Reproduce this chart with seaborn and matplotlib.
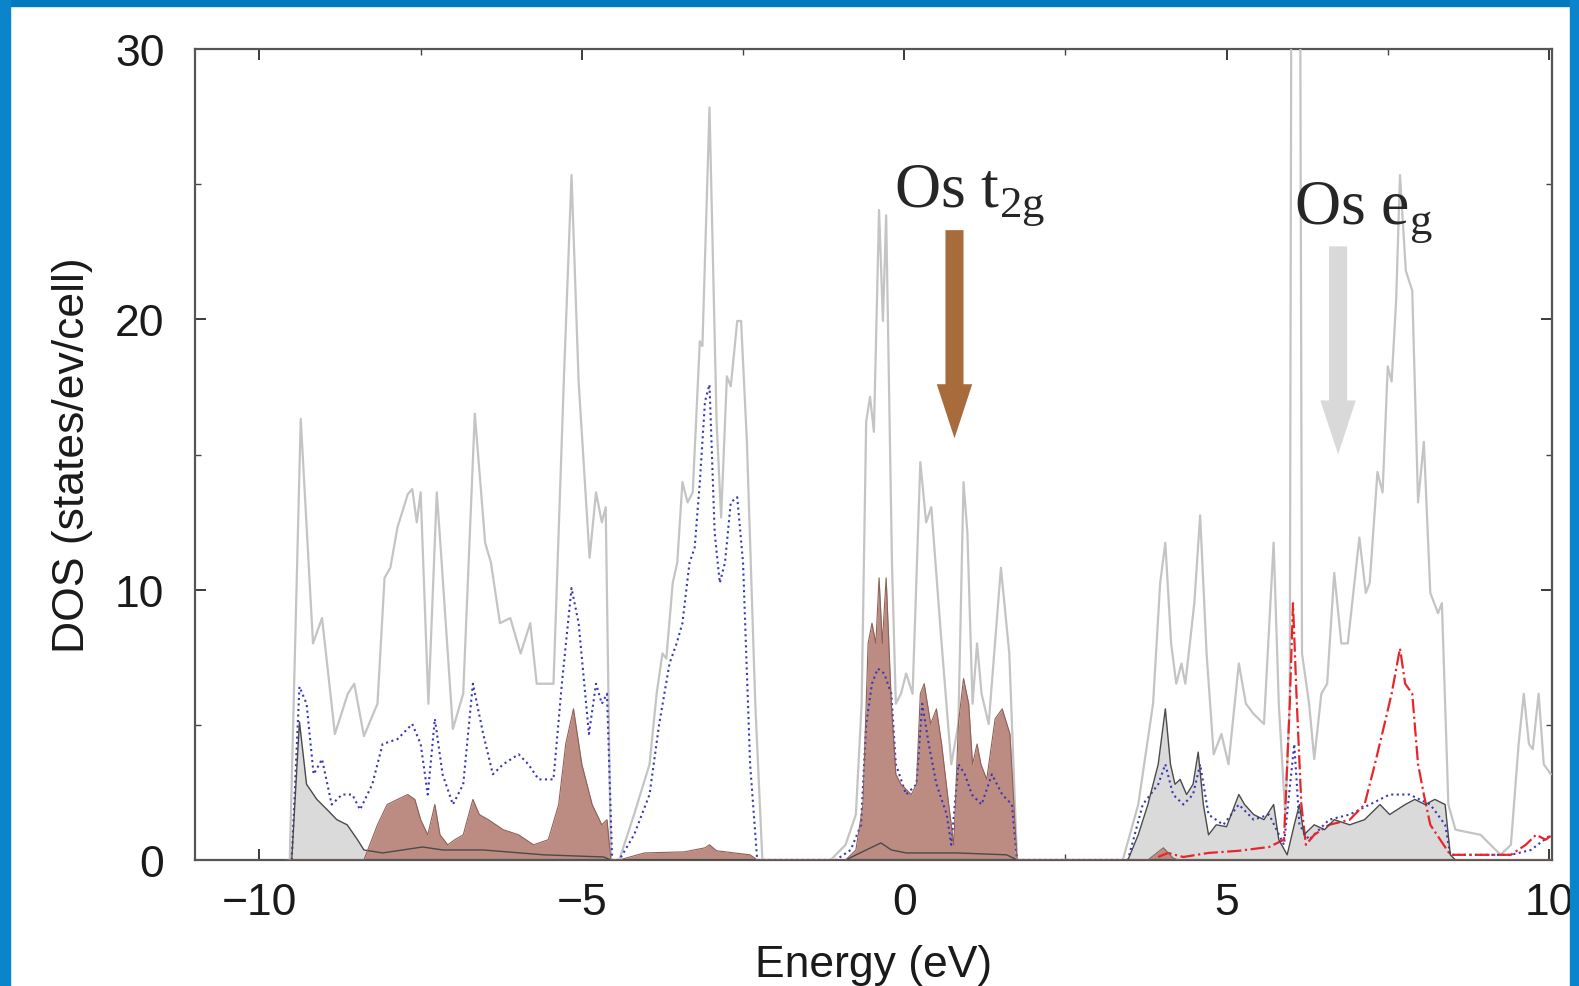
import seaborn as sns
import matplotlib.pyplot as plt
import matplotlib.patches as mpatches
from matplotlib.ticker import MultipleLocator

# total DOS (light gray solid line)
total_e = [-9.53, -9.36, -9.17, -9.03, -8.83, -8.63, -8.53, -8.38, -8.17, -8.06, -7.97, -7.86,
           -7.70, -7.63, -7.56, -7.50, -7.38, -7.25, -7.19, -7.00, -6.84, -6.66, -6.50, -6.41,
           -6.27, -6.11, -5.95, -5.80, -5.70, -5.44, -5.28, -5.16, -5.05, -4.88, -4.78, -4.69,
           -4.63, -4.55,
           -4.42, -4.19, -3.95, -3.84, -3.75, -3.69, -3.59, -3.52, -3.44, -3.36, -3.28, -3.17,
           -3.13, -3.02, -2.91, -2.84, -2.75, -2.69, -2.59, -2.53, -2.44, -2.31, -2.20,
           -1.14, -0.91, -0.75, -0.66, -0.59, -0.53, -0.47, -0.39, -0.33, -0.28, -0.19, -0.13,
           -0.05, 0.03, 0.13, 0.25, 0.34, 0.42, 0.58, 0.73, 0.84, 0.92, 0.98, 1.06, 1.13, 1.20,
           1.31, 1.50, 1.63, 1.75,
           3.39, 3.63, 3.86, 3.97, 4.05, 4.14, 4.22, 4.30, 4.36, 4.50, 4.59, 4.69, 4.80, 4.92,
           5.03, 5.19, 5.30, 5.42, 5.58, 5.73, 5.81, 5.91, 5.98, 6.03, 6.11, 6.17, 6.28, 6.36,
           6.47, 6.56, 6.67, 6.78, 6.88, 7.06, 7.16, 7.22, 7.34, 7.42, 7.50, 7.56, 7.63, 7.69,
           7.78, 7.88, 7.97, 8.06, 8.16, 8.28, 8.34, 8.44, 8.55, 8.94, 9.25, 9.41, 9.53, 9.61,
           9.69, 9.75, 9.84, 9.92, 10.03]
total_dos = [0, 16.32, 8.01, 8.95, 4.66, 6.15, 6.52, 4.58, 5.78, 10.44, 10.81, 12.30,
             13.53, 13.72, 12.49, 13.60, 5.78, 13.60, 11.55, 4.85, 6.15, 16.51, 11.74, 11.00,
             8.76, 8.95, 7.64, 8.76, 6.52, 6.52, 17.70, 25.34, 17.70, 11.18, 13.60, 12.49,
             13.05, 0,
             0, 1.68, 3.54, 6.15, 7.64, 7.45, 10.25, 11.00, 13.98, 13.23, 13.60, 19.19,
             19.01, 27.84, 16.21, 12.67, 17.89, 17.52, 19.94, 19.94, 15.47, 5.78, 0,
             0, 0.56, 1.68, 5.78, 16.21, 17.14, 15.84, 24.04, 19.94, 23.85, 11.00, 5.78,
             6.15, 6.90, 6.15, 14.72, 12.49, 13.05, 8.01, 3.54, 5.03, 13.98, 12.11, 5.78, 8.01, 6.15,
             5.03, 10.81, 7.64, 0,
             0, 2.05, 5.78, 10.25, 11.74, 8.01, 6.52, 7.27, 6.52, 9.50, 12.75, 7.64, 3.91, 4.66,
             3.54, 7.27, 5.78, 5.40, 5.03, 11.74, 5.78, 1.68, 5.78, 60.0, 60.0, 7.64, 5.78, 3.73,
             6.15, 6.52, 10.62, 8.01, 8.01, 11.93, 9.88, 10.25, 14.35, 13.60, 18.26, 17.70, 20.69, 25.34,
             21.80, 21.06, 13.23, 15.47, 9.88, 9.13, 9.50, 2.05, 1.12, 0.93, 0.19, 0.56, 4.29, 6.15,
             4.29, 4.10, 6.15, 3.54, 3.17]

# blue dotted partial DOS
blue_e = [-9.50, -9.38, -9.27, -9.16, -9.03, -8.88, -8.72, -8.56, -8.44, -8.25, -8.09, -7.86,
          -7.63, -7.50, -7.39, -7.28, -7.16, -7.00, -6.84, -6.69, -6.53, -6.38, -6.22, -5.98,
          -5.83, -5.67, -5.44, -5.31, -5.16, -5.05, -4.89, -4.78, -4.69, -4.61, -4.53,
          -4.42, -4.19, -3.95, -3.80, -3.64, -3.53, -3.44, -3.33, -3.25, -3.17, -3.09, -3.02,
          -2.94, -2.86, -2.78, -2.69, -2.59, -2.50, -2.39, -2.28,
          -1.06, -0.83, -0.67, -0.59, -0.50, -0.41, -0.31, -0.20, -0.13, 0.03, 0.19, 0.28,
          0.38, 0.50, 0.66, 0.73, 0.84, 0.94, 1.05, 1.20, 1.36, 1.52, 1.67, 1.75,
          3.47, 3.70, 3.94, 4.05, 4.17, 4.33, 4.48, 4.59, 4.72, 4.95, 5.19, 5.42, 5.66, 5.89,
          6.05, 6.13, 6.28, 6.59, 6.91, 7.22, 7.53, 7.84, 8.16, 8.39, 8.47, 9.41, 9.72, 10.03]
blue_dos = [0, 6.41, 5.78, 3.17, 3.73, 2.05, 2.42, 2.42, 1.86, 2.80, 4.29, 4.47,
            5.03, 4.29, 2.42, 5.22, 3.17, 2.05, 2.80, 6.52, 4.66, 3.17, 3.54, 3.91,
            3.54, 2.98, 2.98, 6.52, 10.06, 8.76, 4.66, 6.52, 5.78, 6.15, 0,
            0, 0.93, 2.42, 5.03, 7.27, 8.01, 8.76, 11.00, 11.55, 13.98, 16.96, 17.59,
            12.11, 10.25, 11.00, 13.23, 13.42, 11.00, 3.54, 0,
            0, 0.37, 1.30, 5.03, 6.52, 7.08, 6.90, 6.15, 3.54, 2.42, 2.80, 5.78,
            4.29, 2.80, 1.68, 0.56, 3.54, 3.17, 2.42, 2.05, 3.17, 2.42, 2.05, 0,
            0, 2.05, 2.80, 3.54, 2.42, 2.05, 2.42, 3.54, 1.68, 1.30, 2.05, 1.49, 1.68, 0.56,
            4.29, 1.30, 0.75, 1.49, 1.68, 2.05, 2.42, 2.42, 2.05, 1.30, 0.19, 0.19, 0.37, 0.93]

# Os t2g (brown filled)
t2g_e = [-9.6, -8.38, -8.17, -8.02, -7.86, -7.70, -7.59, -7.50, -7.39, -7.28, -7.20, -7.08,
         -6.97, -6.84, -6.69, -6.59, -6.45, -6.22, -5.98, -5.75, -5.52, -5.36, -5.25, -5.13,
         -5.00, -4.84, -4.69, -4.61, -4.55,
         -4.42, -4.03, -3.41, -3.09, -3.02, -2.91, -2.39, -2.28,
         -0.91, -0.75, -0.64, -0.56, -0.50, -0.44, -0.39, -0.34, -0.28, -0.20, -0.13, -0.05,
         0.11, 0.19, 0.25, 0.31, 0.41, 0.50, 0.58, 0.69, 0.77, 0.84, 0.92, 1.00, 1.06, 1.13,
         1.19, 1.28, 1.41, 1.52, 1.64, 1.75,
         3.78, 4.02, 4.17, 4.25, 10.1]
t2g_dos = [0, 0, 1.30, 2.05, 2.24, 2.42, 2.24, 1.49, 0.93, 2.05, 0.93, 0.56,
           0.75, 0.93, 2.24, 1.68, 1.49, 1.12, 0.93, 0.56, 0.75, 2.05, 4.29, 5.59,
           3.54, 2.05, 1.30, 1.49, 0,
           0, 0.26, 0.30, 0.45, 0.56, 0.34, 0.19, 0,
           0, 0.37, 2.05, 8.01, 8.76, 8.01, 10.44, 8.01, 10.44, 5.78, 3.17, 2.80,
           2.42, 2.80, 6.15, 6.52, 5.03, 5.59, 4.29, 2.05, 0.56, 5.03, 6.71, 5.78, 3.54, 4.29,
           3.54, 2.98, 5.22, 5.59, 4.66, 0,
           0, 0.45, 0.07, 0, 0]

# Os eg (light gray filled)
eg_e = [-9.50, -9.38, -9.27, -9.11, -8.95, -8.80, -8.64, -8.48, -8.38, -8.09, -7.47, -7.16,
        -6.53, -5.59, -4.66, -4.55,
        -0.91, -0.59, -0.36, -0.20, 0.03, 0.81, 1.59, 1.75,
        3.47, 3.63, 3.78, 3.94, 4.05, 4.13, 4.20, 4.28, 4.38, 4.48, 4.56, 4.64, 4.72, 4.84,
        5.00, 5.19, 5.28, 5.42, 5.58, 5.73, 5.81, 5.94, 6.05, 6.13, 6.20, 6.36, 6.52, 6.67,
        6.91, 7.14, 7.38, 7.53, 7.77, 7.92, 8.08, 8.23, 8.39, 8.47, 8.55]
eg_dos = [0, 5.11, 2.80, 2.24, 1.86, 1.49, 1.30, 0.75, 0.37, 0.26, 0.48, 0.37,
          0.37, 0.19, 0.11, 0,
          0, 0.37, 0.63, 0.37, 0.26, 0.26, 0.19, 0,
          0, 0.93, 2.05, 3.54, 5.59, 3.54, 2.80, 2.98, 2.42, 2.80, 3.99, 2.05, 0.93, 1.30,
          1.23, 2.42, 2.05, 1.68, 1.49, 2.05, 0.75, 0.19, 1.30, 2.05, 0.93, 1.30, 1.12, 1.49,
          1.30, 1.49, 2.05, 1.68, 2.05, 2.24, 2.05, 2.24, 2.05, 0.19, 0]

# red dash-dot partial DOS
red_e = [3.94, 4.09, 4.33, 4.72, 5.19, 5.66, 5.89, 5.98, 6.03, 6.09, 6.16, 6.23, 6.36,
         6.59, 6.91, 7.14, 7.30, 7.45, 7.56, 7.69, 7.77, 7.88, 7.97, 8.06, 8.16, 8.47,
         9.41, 9.64, 9.80, 9.95, 10.05]
red_dos = [0.11, 0.26, 0.11, 0.26, 0.34, 0.48, 0.75, 5.78, 9.50, 5.78, 2.05, 0.56, 0.93,
           1.30, 1.49, 2.05, 3.54, 5.03, 6.15, 7.83, 6.52, 6.15, 3.54, 2.42, 1.30, 0.19,
           0.19, 0.56, 0.93, 0.75, 0.93]

x_ticks = [-10, -5, 0, 5, 10]
y_ticks = [0, 10, 20, 30]

sns.set_style("ticks")
plt.rcParams["font.family"] = ["Liberation Sans", "DejaVu Sans"]
plt.rcParams["mathtext.fontset"] = "custom"
plt.rcParams["mathtext.rm"] = "Liberation Serif"

fig = plt.figure(figsize=(15.79, 9.87), dpi=100)
ax = fig.add_axes([0.1235, 0.1277, 0.8595, 0.8216])

# filled partial DOS
ax.fill_between(eg_e, eg_dos, color="#dadada", lw=0, zorder=1)
ax.fill_between(t2g_e, t2g_dos, color="#bc8c82", lw=0, zorder=2)

sns.lineplot(x=total_e, y=total_dos, ax=ax, color="#c4c4c4", lw=1.6,
             estimator=None, sort=False, zorder=3)
sns.lineplot(x=blue_e, y=blue_dos, ax=ax, color="#3838b8", lw=1.5, linestyle=":",
             estimator=None, sort=False, zorder=4)
sns.lineplot(x=red_e, y=red_dos, ax=ax, color="#e8262a", lw=1.6, linestyle="-.",
             estimator=None, sort=False, zorder=4)
sns.lineplot(x=eg_e, y=eg_dos, ax=ax, color="#4a4a4a", lw=1.0,
             estimator=None, sort=False, zorder=5)
sns.lineplot(x=t2g_e, y=t2g_dos, ax=ax, color="#8e6058", lw=0.8,
             estimator=None, sort=False, zorder=5)

# annotations
ax.arrow(0.78, 23.3, 0, -7.7, width=0.28, head_width=0.55, head_length=2.0,
         length_includes_head=True, color="#a86b3c", lw=0, zorder=6)
ax.arrow(6.73, 22.7, 0, -7.7, width=0.28, head_width=0.55, head_length=2.0,
         length_includes_head=True, color="#d9d9d9", lw=0, zorder=6)
ax.text(-0.16, 24.2, r"Os t$_{\mathrm{2g}}$", fontsize=46, family="Liberation Serif",
        ha="left", va="baseline", zorder=7)
ax.text(6.05, 23.6, r"Os e$_{\mathrm{g}}$", fontsize=46, family="Liberation Serif",
        ha="left", va="baseline", zorder=7)

ax.set_xlim(-11, 10.05)
ax.set_ylim(0, 30)
ax.set_xticks(x_ticks)
ax.set_yticks(y_ticks)
ax.xaxis.set_minor_locator(MultipleLocator(2.5))
ax.yaxis.set_minor_locator(MultipleLocator(5))
ax.tick_params(which="both", direction="in", top=True, right=True, color="#444444")
ax.tick_params(which="major", length=8, width=1.2, labelsize=32, colors="#1a1a1a")
ax.tick_params(axis="y", which="major", pad=22)
ax.tick_params(axis="x", which="major", pad=16)
ax.tick_params(which="minor", length=4, width=1.0)
for sp in ax.spines.values():
    sp.set_color("#555555")
    sp.set_linewidth(1.6)

ax.set_xlabel("Energy (eV)", fontsize=32, labelpad=15, color="#1a1a1a")
ax.set_ylabel("DOS (states/ev/cell)", fontsize=32, labelpad=16, color="#1a1a1a")

# blue frame of the slide
fig.patches.append(mpatches.Rectangle((0, 0.993), 1, 0.007, transform=fig.transFigure,
                                      color="#0079be", zorder=0))
fig.patches.append(mpatches.Rectangle((0, 0), 0.0065, 1, transform=fig.transFigure,
                                      color="#0a85cc", zorder=0))
fig.patches.append(mpatches.Rectangle((0.9945, 0), 0.0055, 1, transform=fig.transFigure,
                                      color="#0a85cc", zorder=0))

fig.savefig("out.png", dpi=100)
